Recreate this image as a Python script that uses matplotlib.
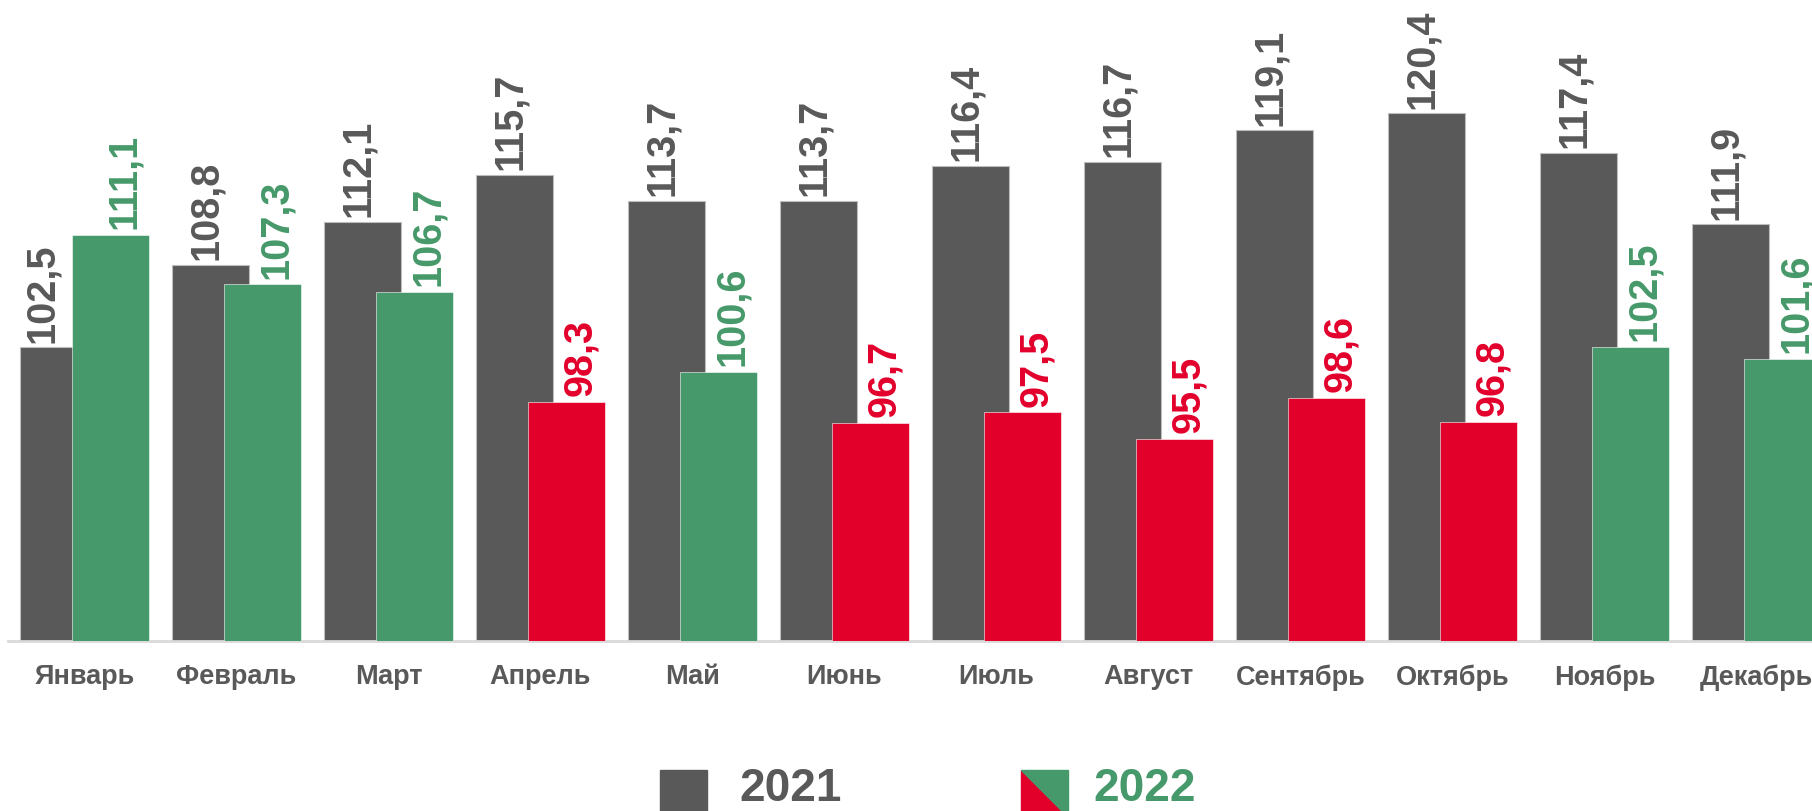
import numpy as np
import matplotlib.pyplot as plt
from matplotlib.patches import Rectangle, Polygon

plt.rcParams["font.family"] = ["Liberation Sans", "DejaVu Sans"]

# ---- data ----
months = ["Январь", "Февраль", "Март", "Апрель", "Май", "Июнь",
          "Июль", "Август", "Сентябрь", "Октябрь", "Ноябрь", "Декабрь"]
y2021 = [102.5, 108.8, 112.1, 115.7, 113.7, 113.7,
         116.4, 116.7, 119.1, 120.4, 117.4, 111.9]
y2022 = [111.1, 107.3, 106.7, 98.3, 100.6, 96.7,
         97.5, 95.5, 98.6, 96.8, 102.5, 101.6]
years = ["2021", "2022"]

GREY = "#595959"
GREEN = "#46996A"
RED = "#E2002B"

W, H = 1812, 812


def fx(px):
    return px / W


def fy(py):
    # pixel measured from the top -> figure fraction
    return 1 - py / H


fig = plt.figure(figsize=(W / 100, H / 100), dpi=100)
ax = fig.add_axes([fx(8), fy(642), 1 - fx(8), fy(0) - fy(642)])

x = np.arange(len(months))
off, bw = 0.17, 0.51
col22 = [RED if v < 100 else GREEN for v in y2022]

ax.bar(x - off, y2021, width=bw, color=GREY, edgecolor="#bdbdbd",
       linewidth=0.8, zorder=2)
ax.bar(x + off, y2022, width=bw, color=col22, edgecolor="white",
       linewidth=0.4, zorder=3)

ax.set_ylim(80, 80 + 642 / 13.06)
ax.set_xlim(-0.503, -0.503 + 1804 / 152)


def fmt(v):
    return f"{v:.1f}".replace(".", ",")


# value labels, rotated like the original
for i in range(len(months)):
    dx = -12 if y2022[i] > y2021[i] else -3
    ax.annotate(fmt(y2021[i]), (x[i] - off, y2021[i]), xytext=(dx, 4),
                textcoords="offset points", rotation=90, ha="center",
                va="bottom", fontsize=28.5, fontweight="bold", color=GREY,
                annotation_clip=False, zorder=4)
    ax.annotate(fmt(y2022[i]), (x[i] + off, y2022[i]), xytext=(10, 5),
                textcoords="offset points", rotation=90, ha="center",
                va="bottom", fontsize=28.5, fontweight="bold",
                color=col22[i], annotation_clip=False, zorder=4)

ax.set_xticks(x, months, fontsize=19.5, fontweight="bold", color=GREY)
ax.tick_params(axis="x", length=0, pad=16)
ax.set_yticks([])
for s in ["left", "right", "top"]:
    ax.spines[s].set_visible(False)
ax.spines["bottom"].set_color("#d9d9d9")
ax.spines["bottom"].set_linewidth(2)

# ---- legend (square markers run off the bottom edge, as in the original) ----
sq = 47
fig.add_artist(Rectangle((fx(660), fy(771 + sq)), fx(sq), sq / H,
                         transform=fig.transFigure, color=GREY))
x0, y0 = 1021, 771
fig.add_artist(Polygon([(fx(x0), fy(y0)), (fx(x0), fy(y0 + sq)),
                        (fx(x0 + sq), fy(y0 + sq))],
                       closed=True, transform=fig.transFigure, color=RED))
fig.add_artist(Polygon([(fx(x0), fy(y0)), (fx(x0 + sq), fy(y0)),
                        (fx(x0 + sq), fy(y0 + sq))],
                       closed=True, transform=fig.transFigure, color=GREEN))
fig.text(fx(739), fy(801), years[0], fontsize=33, fontweight="bold",
         color=GREY, va="baseline")
fig.text(fx(1093), fy(801), years[1], fontsize=33, fontweight="bold",
         color=GREEN, va="baseline")

fig.savefig("out.png", dpi=100)
